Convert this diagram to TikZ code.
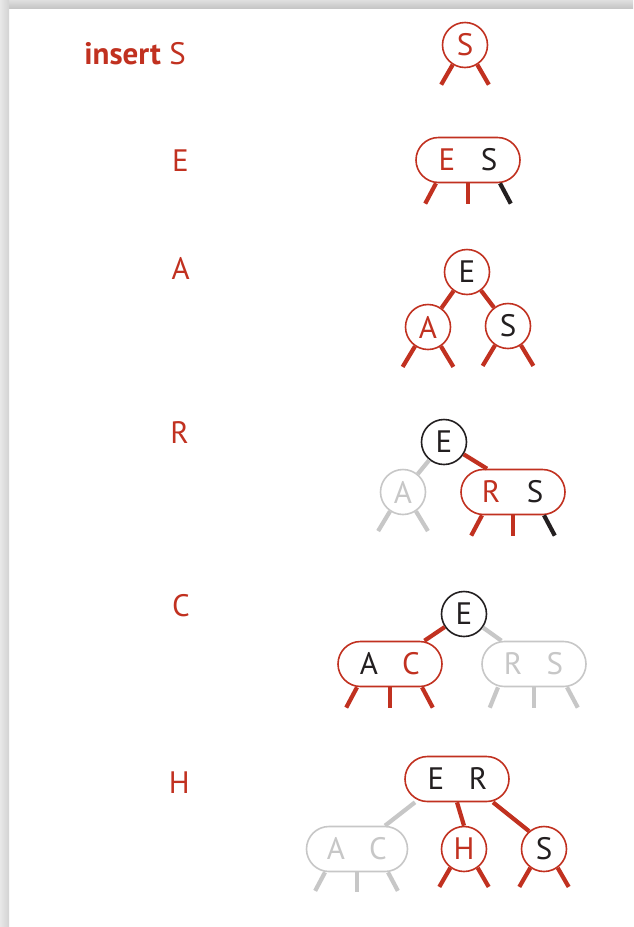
\documentclass[tikz,border=0pt]{standalone}
\usepackage{fontspec}
\setmainfont{PT Sans}
\usetikzlibrary{calc}
\definecolor{rd}{RGB}{193,49,32}
\definecolor{gr}{RGB}{199,199,199}
\definecolor{bk}{RGB}{35,31,32}
\begin{document}
\begin{tikzpicture}[x=1pt,y=-1pt,
  font=\fontsize{31}{36}\selectfont,
  cnode/.style={circle,draw,line width=1.6pt,minimum size=45pt,inner sep=0pt,fill=white},
  pnode/.style={rectangle,rounded corners=22.5pt,draw,line width=1.6pt,minimum width=104pt,minimum height=45pt,inner sep=0pt,fill=white},
  lnk/.style={line width=4.2pt},
  lbl/.style={anchor=base east,text=rd,inner sep=0pt},
]
\useasboundingbox (0,0) rectangle (633,927);
\fill[white] (0,0) rectangle (633,927);
\shade[top color=gray!25,bottom color=gray!45] (0,0) rectangle (633,8);
\shade[left color=gray!18,right color=gray!35] (0,0) rectangle (9,927);

% labels
\node[lbl] (L1) at (186,64) {{\bfseries insert} S};
\node[lbl] (L2) at (189,171) {E};
\node[lbl] (L3) at (190,279) {A};
\node[lbl] (L4) at (189,443) {R};
\node[lbl] (L5) at (190,616) {C};
\node[lbl] (L6) at (190,793) {H};

% row 1
\node[cnode,draw=rd,text=rd] (S1) at (465,45) {S};
\draw[lnk,rd] (S1.-122) -- ++(-120:23pt);
\draw[lnk,rd] (S1.-58) -- ++(-60:23pt);

% row 2
\node[pnode,draw=rd] (P2) at (468,160) {\makebox[42pt]{\textcolor{rd}{E}}\makebox[42pt]{\textcolor{bk}{S}}};
\draw[lnk,rd] ([xshift=-32pt]P2.south) -- ++(-118:23pt);
\draw[lnk,rd] (P2.south) -- ++(0,21);
\draw[lnk,bk] ([xshift=32pt]P2.south) -- ++(-62:23pt);

% row 3
\node[cnode,draw=rd,text=bk] (E3) at (467,272) {E};
\node[cnode,draw=rd,text=rd] (A3) at (428,327) {A};
\node[cnode,draw=rd,text=bk] (S3) at (508,326) {S};
\draw[lnk,rd] (E3) -- (A3);
\draw[lnk,rd] (E3) -- (S3);
\draw[lnk,rd] (A3.-124) -- ++(-121:24pt);
\draw[lnk,rd] (A3.-56) -- ++(-59:24pt);
\draw[lnk,rd] (S3.-124) -- ++(-121:24pt);
\draw[lnk,rd] (S3.-56) -- ++(-59:24pt);

% row 4
\node[cnode,draw=bk,text=bk] (E4) at (444,442) {E};
\node[cnode,draw=gr,text=gr] (A4) at (403,492) {A};
\node[pnode,draw=rd] (RS4) at (513,492) {\makebox[44pt]{\textcolor{rd}{R}}\makebox[44pt]{\textcolor{bk}{S}}};
\draw[lnk,gr] (E4) -- (A4);
\draw[lnk,rd] (E4.-32) -- ([xshift=-26pt]RS4.north);
\draw[lnk,gr] (A4.-124) -- ++(-121:23pt);
\draw[lnk,gr] (A4.-56) -- ++(-59:23pt);
\draw[lnk,rd] ([xshift=-31pt]RS4.south) -- ++(-118:23pt);
\draw[lnk,rd] (RS4.south) -- ++(0,21);
\draw[lnk,bk] ([xshift=31pt]RS4.south) -- ++(-62:23pt);

% row 5
\node[cnode,draw=bk,text=bk] (E5) at (464,614) {E};
\node[pnode,draw=rd] (AC5) at (390,664) {\makebox[42pt]{\textcolor{bk}{A}}\makebox[42pt]{\textcolor{rd}{C}}};
\node[pnode,draw=gr,text=gr] (RS5) at (534,664) {\makebox[42pt]{R}\makebox[42pt]{S}};
\draw[lnk,rd] (E5) -- (AC5);
\draw[lnk,gr] (E5) -- (RS5);
\draw[lnk,rd] ([xshift=-33pt]AC5.south) -- ++(-118:23pt);
\draw[lnk,rd] (AC5.south) -- ++(0,21);
\draw[lnk,rd] ([xshift=32pt]AC5.south) -- ++(-62:23pt);
\draw[lnk,gr] ([xshift=-36pt]RS5.south) -- ++(-112:22pt);
\draw[lnk,gr] (RS5.south) -- ++(0,21);
\draw[lnk,gr] ([xshift=33pt]RS5.south) -- ++(-62:23pt);

% row 6
\node[pnode,draw=rd] (ER6) at (457,779) {\makebox[42pt]{\textcolor{bk}{E}}\makebox[42pt]{\textcolor{bk}{R}}};
\node[pnode,draw=gr,text=gr,minimum width=101pt] (AC6) at (357,849) {\makebox[42pt]{A}\makebox[42pt]{C}};
\node[cnode,draw=rd,text=rd] (H6) at (464,849) {H};
\node[cnode,draw=rd,text=bk] (S6) at (544,849) {S};
\draw[lnk,gr] ([xshift=-42pt]ER6.south) -- ([xshift=28pt]AC6.north);
\draw[lnk,rd] (ER6.south) -- (H6.north);
\draw[lnk,rd] ([xshift=36pt]ER6.south) -- (S6.130);
\draw[lnk,gr] ([xshift=-32pt]AC6.south) -- ++(-118:21pt);
\draw[lnk,gr] (AC6.south) -- ++(0,20);
\draw[lnk,gr] ([xshift=31pt]AC6.south) -- ++(-62:21pt);
\draw[lnk,rd] (H6.-126) -- ++(-120:22pt);
\draw[lnk,rd] (H6.-54) -- ++(-60:22pt);
\draw[lnk,rd] (S6.-126) -- ++(-120:22pt);
\draw[lnk,rd] (S6.-54) -- ++(-60:22pt);
\end{tikzpicture}
\end{document}
